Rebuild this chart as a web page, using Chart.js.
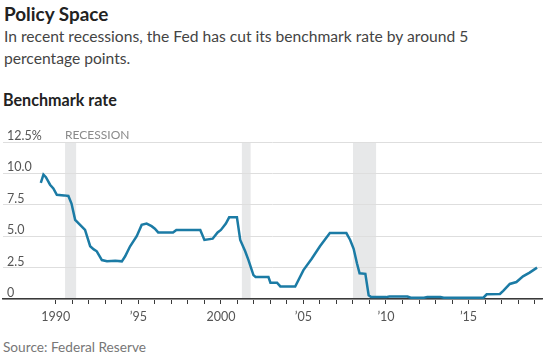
<!DOCTYPE html>
<html lang="en">
<head>
<meta charset="UTF-8">
<script src="https://cdn.jsdelivr.net/npm/chart.js"></script>
<title>Policy Space</title>
<style>
  body { margin: 0; width: 550px; height: 361px; background: #fff; font-family: Lato, sans-serif; position: relative; overflow: hidden; }
  .titulo { position: absolute; left: 4px; top: 2px; font-size: 18px; font-weight: bold; color: #222; white-space: nowrap; }
  .sub { position: absolute; left: 4px; top: 25px; font-size: 15px; line-height: 22px; color: #444; white-space: nowrap; }
  .rotulo { position: absolute; left: 3px; top: 90px; font-size: 15px; font-weight: bold; color: #222; white-space: nowrap; }
  .fonte { position: absolute; left: 3px; top: 339px; font-size: 13px; color: #777; white-space: nowrap; }
  #grafico { position: absolute; left: 0; top: 120px; }
</style>
</head>
<body>
<div class="titulo"><span id="t1">Policy Space</span></div>
<div class="sub"><span id="t2">In recent recessions, the Fed has cut its benchmark rate by around 5</span><br>percentage points.</div>
<div class="rotulo"><span id="t3">Benchmark rate</span></div>
<div class="fonte"><span id="t4">Source: Federal Reserve</span></div>
<canvas id="grafico" width="550" height="210"></canvas>

<script>
// anos (decimais) e taxa do Fed
var anos = [1989.09, 1989.25, 1989.4, 1989.65, 1989.85, 1990.06, 1990.5, 1990.76, 1990.95, 1991.17,
  1991.47, 1991.77, 1992.08, 1992.3, 1992.48, 1992.79, 1993.1, 1993.6, 1994.0, 1994.2,
  1994.5, 1994.9, 1995.2, 1995.5, 1995.8, 1996.0, 1996.2, 1996.7, 1997.1, 1997.3,
  1998.0, 1998.75, 1999.0, 1999.5, 1999.8, 2000.0, 2000.3, 2000.5, 2000.97, 2001.17,
  2001.47, 2001.67, 2001.97, 2002.1, 2002.88, 2003.0, 2003.4, 2003.6, 2004.5, 2005.0,
  2005.5, 2006.0, 2006.6, 2007.6, 2007.83, 2008.04, 2008.24, 2008.4, 2008.75, 2008.95,
  2009.1, 2010.0, 2010.2, 2011.3, 2011.5, 2012.3, 2012.5, 2013.3, 2013.5, 2015.9,
  2016.1, 2016.9, 2017.1, 2017.5, 2017.9, 2018.3, 2018.7, 2019.15];
var taxas = [9.24, 9.9, 9.7, 9.1, 8.8, 8.3, 8.25, 8.2, 7.6, 6.3,
  5.9, 5.5, 4.2, 3.95, 3.8, 3.1, 3.0, 3.05, 3.0, 3.4,
  4.2, 5.0, 5.9, 6.0, 5.8, 5.6, 5.3, 5.3, 5.3, 5.5,
  5.5, 5.5, 4.7, 4.8, 5.3, 5.5, 6.0, 6.5, 6.5, 4.7,
  3.8, 3.1, 1.9, 1.75, 1.75, 1.3, 1.3, 1.0, 1.0, 2.3,
  3.2, 4.2, 5.25, 5.25, 4.7, 4.0, 2.85, 2.05, 2.0, 0.3,
  0.15, 0.15, 0.2, 0.2, 0.1, 0.1, 0.15, 0.15, 0.1, 0.1,
  0.37, 0.4, 0.65, 1.2, 1.35, 1.8, 2.1, 2.5];

// recessoes: inicio e fim
var recInicio = [1990.56, 2001.27, 2008.0];
var recFim = [1991.23, 2001.8, 2009.4];

var yTicks = [0, 2.5, 5, 7.5, 10, 12.5];
var anosRotulo = { 1990: '1990', 1995: '\u201995', 2000: '2000', 2005: '\u201905', 2010: '\u201910', 2015: '\u201915' };

// ajusta o tamanho da fonte para a largura do original
function ajustar(id, largura) {
  var el = document.getElementById(id);
  var pai = el.parentNode;
  var s = parseFloat(getComputedStyle(pai).fontSize);
  pai.style.fontSize = (s * largura / el.offsetWidth).toFixed(2) + 'px';
}
ajustar('t1', 104);
ajustar('t2', 465);
ajustar('t3', 114);
ajustar('t4', 143);

var pontos = [];
for (var i = 0; i < anos.length; i++) {
  pontos.push({ x: anos[i], y: taxas[i] });
}

// faixas cinzas das recessoes
var recessaoPlugin = {
  id: 'recessao',
  beforeDraw: function (chart) {
    var ctx = chart.ctx;
    var x = chart.scales.x, y = chart.scales.y;
    var topo = y.getPixelForValue(12.5), base = y.getPixelForValue(0);
    ctx.save();
    ctx.fillStyle = '#e7e8e9';
    for (var i = 0; i < recInicio.length; i++) {
      var x1 = x.getPixelForValue(recInicio[i]);
      var x2 = x.getPixelForValue(recFim[i]);
      ctx.fillRect(x1, topo, x2 - x1, base - topo);
    }
    ctx.fillStyle = '#8a8a8a';
    ctx.font = '12px Lato';
    ctx.textBaseline = 'middle';
    ctx.fillText('RECESSION', x.getPixelForValue(recInicio[0]), topo - 7);
    ctx.restore();
  }
};

new Chart(document.getElementById('grafico'), {
  type: 'line',
  data: {
    datasets: [{
      data: pontos,
      borderColor: '#1b7ba5',
      borderWidth: 2.5,
      pointRadius: 0,
      tension: 0,
      fill: false
    }]
  },
  options: {
    responsive: false,
    animation: false,
    layout: { padding: { left: 3, right: 8, top: 22, bottom: 0 } },
    plugins: { legend: { display: false }, tooltip: { enabled: false } },
    scales: {
      x: {
        type: 'linear',
        min: 1986.8,
        max: 2019.45,
        afterFit: function (s) { s.height = 31; },
        afterBuildTicks: function (s) {
          s.ticks = s.ticks.filter(function (t) { return t.value >= 1990 && t.value <= 2019; });
        },
        border: { display: true, color: '#3a3a3a', width: 1.5 },
        grid: { drawOnChartArea: false, drawTicks: true, tickLength: 5, color: '#3a3a3a', lineWidth: 1 },
        ticks: {
          stepSize: 1,
          includeBounds: false,
          autoSkip: false,
          maxRotation: 0,
          padding: 5,
          color: '#555',
          font: { family: 'Lato', size: 12.5 },
          callback: function (v) { return anosRotulo[v] || ''; }
        }
      },
      y: {
        min: 0,
        max: 12.5,
        afterFit: function (s) { s.width = 0; },
        afterBuildTicks: function (s) {
          s.ticks = yTicks.map(function (v) { return { value: v }; });
        },
        border: { display: false },
        grid: { color: '#dedede', lineWidth: 1, drawTicks: false },
        ticks: {
          mirror: true,
          padding: 4,
          labelOffset: -6,
          color: '#555',
          font: { family: 'Lato', size: 12.5 },
          callback: function (v) {
            if (v === 12.5) return '12.5%';
            if (v === 0) return '0';
            return v.toFixed(1);
          }
        }
      }
    }
  },
  plugins: [recessaoPlugin]
});
</script>
</body>
</html>
